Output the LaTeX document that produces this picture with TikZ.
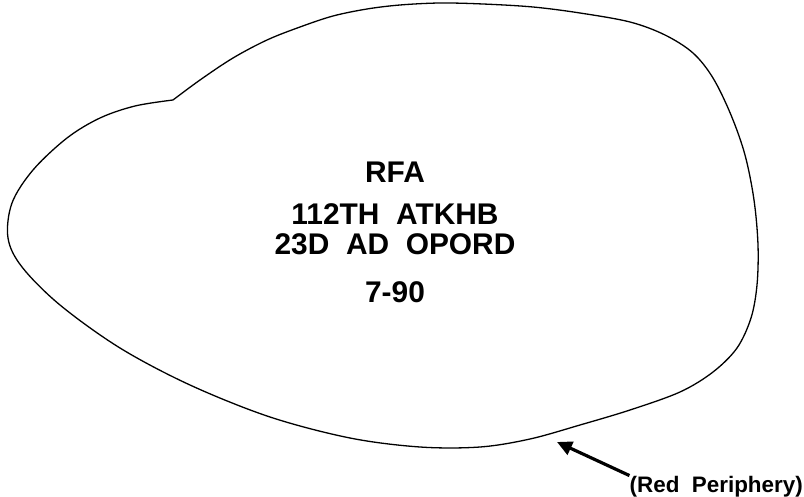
\documentclass[tikz,border=0pt]{standalone}
\usepackage{fontspec}
\setmainfont{Liberation Sans}
\usetikzlibrary{arrows.meta}

\begin{document}
\begin{tikzpicture}[x=1bp, y=-1bp,
    rfatext/.style={font=\fontsize{30}{30}\selectfont\bfseries, inner sep=0pt, anchor=base},
    notetext/.style={font=\fontsize{22.5}{24}\selectfont\bfseries, inner sep=0pt, anchor=base east}]
    \useasboundingbox (0,0) rectangle (804,497);

    % periphery of the area, with the notch at upper left
    \draw[line width=1.3bp, line join=round] plot[smooth, tension=0.55] coordinates {
        (173,100) (200,80) (233,58) (267,40) (300,27) (333,16) (367,9) (400,5) (440,3)
        (483,4) (533,7) (580,13) (630,22) (665,35) (693,53) (713,78) (731,115) (745,155)
        (754,200) (758,245) (757,285) (751,318) (737,348) (713,372) (680,392) (630,410)
        (580,425) (530,439) (480,447) (420,447) (350,438) (270,417) (190,385) (120,348)
        (60,305) (22,267) (8,238) (12,203) (33,170) (67,138) (100,118) (135,106) (173,100)};

    \node[rfatext] (rfa) at (395,183) {RFA};
    \node[rfatext] (unit) at (395,225) {112TH~~ATKHB};
    \node[rfatext] (order) at (395,255) {23D~~AD~~OPORD};
    \node[rfatext] (dtg) at (395,303) {7-90};

    \coordinate (tip) at (557,442);
    \node[notetext] (note) at (803,492) {(Red~~Periphery)};
    \draw[-{Triangle[length=15bp, width=14bp]}, line width=3.2bp] (note.north west) -- (tip);
\end{tikzpicture}
\end{document}
